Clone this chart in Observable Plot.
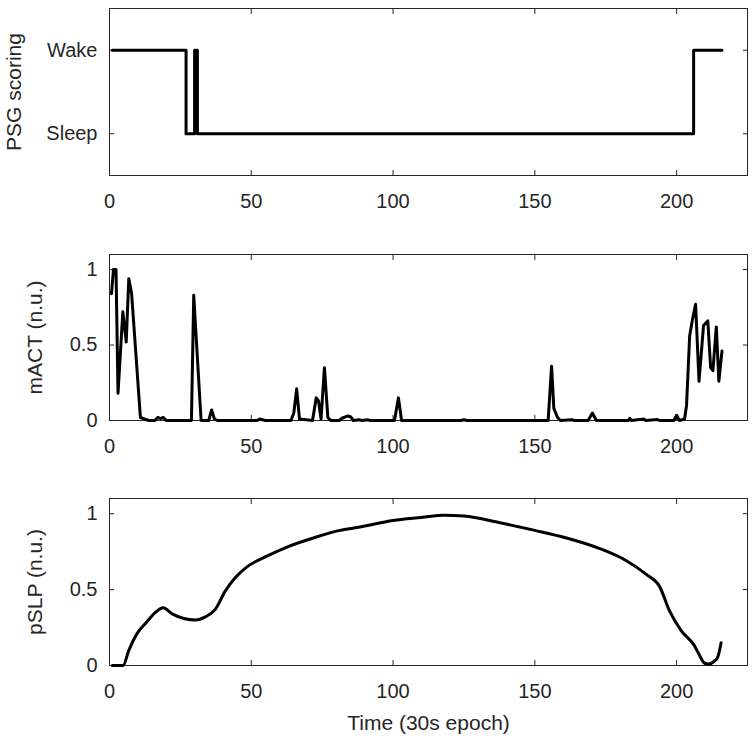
<!DOCTYPE html>
<html>
<head>
<meta charset="utf-8">
<script src="https://cdn.jsdelivr.net/npm/d3@7"></script>
<script src="https://cdn.jsdelivr.net/npm/@observablehq/plot@0.6"></script>
<style>
  body { margin: 0; background: #fff; }
  #chart { width: 756px; height: 748px; }
  #chart svg { display: block; }
  #chart svg g[aria-label="y-axis label"] text, #chart svg g[aria-label="x-axis label"] text { font-size: 21px; }
</style>
</head>
<body>
<div id="chart"></div>
<script>
// ---------- data ----------
const xTicks = [0, 50, 100, 150, 200];
const xLabel = "Time (30s epoch)";

// Panel 1: PSG scoring (change points, step-after)
const psgEpoch = [1, 27, 30, 31, 206, 216];
const psgState = [1, 0, 1, 0, 1, 1];
const psgTicks = [0, 1];
const psgTickLabels = ["Sleep", "Wake"];

// Panel 2: mACT (n.u.)
const actEpoch = [0.7, 1.4, 2.3, 3.0, 4.7, 5.9, 6.8, 7.8, 10.9, 12, 13, 14, 16, 17, 18, 19, 20,
  28.9, 29.7, 32.3, 35, 36, 37, 38, 52, 53, 54, 55, 64, 65, 66, 67,
  71.6, 72.9, 73.7, 74.6, 75.8, 77, 78, 81, 82, 84, 85, 86, 88, 89, 91, 92,
  100.5, 101.9, 103, 124, 125, 126, 154.7, 155.9, 156.7, 158, 159, 163, 164,
  168.8, 170.3, 171.7, 183, 183.5, 184, 188.5, 189, 193.3, 194, 199, 200, 201,
  202.8, 203.5, 204.6, 205.5, 206.7, 207.9, 209.5, 211, 212, 212.8, 214, 214.9, 216];
const actValue = [0.84, 1.0, 1.0, 0.18, 0.72, 0.52, 0.94, 0.84, 0.02, 0.012, 0.005, 0, 0, 0.02, 0.012, 0.02, 0,
  0, 0.83, 0, 0, 0.07, 0.01, 0, 0, 0.01, 0.005, 0, 0, 0.05, 0.21, 0.01,
  0, 0.15, 0.13, 0.01, 0.35, 0.02, 0, 0, 0.015, 0.03, 0.025, 0, 0.005, 0, 0.005, 0,
  0, 0.15, 0, 0, 0.005, 0, 0, 0.36, 0.08, 0.02, 0, 0.005, 0,
  0, 0.05, 0, 0, 0.015, 0, 0.01, 0, 0.006, 0, 0, 0.035, 0,
  0.01, 0.1, 0.56, 0.66, 0.77, 0.26, 0.63, 0.66, 0.35, 0.33, 0.62, 0.26, 0.46];
const actTicks = [0, 0.5, 1];

// Panel 3: pSLP (n.u.)
const slpEpoch = [1, 4.8, 6.8, 9.7, 13.3, 16.2, 18.9, 22.1, 26.2, 30.3, 33.8, 37.3, 40.8, 44.4, 48.5,
  55.5, 62.6, 71.9, 81.3, 87.8, 100, 110, 118, 125, 137.7, 150, 161.2, 172.9, 182.3, 189.3,
  194, 197.5, 201.6, 206.3, 208.1, 209.9, 211.4, 213.4, 214.5, 215.7];
const slpValue = [0, 0, 0.10, 0.21, 0.29, 0.35, 0.38, 0.34, 0.31, 0.30, 0.32, 0.37, 0.49, 0.58, 0.65,
  0.72, 0.78, 0.84, 0.89, 0.91, 0.955, 0.975, 0.99, 0.985, 0.94, 0.89, 0.84, 0.77, 0.69, 0.60,
  0.52, 0.36, 0.23, 0.13, 0.066, 0.015, 0.01, 0.03, 0.055, 0.15];
const slpTicks = [0, 0.5, 1];

// ---------- drawing ----------
const ink = "#262626";
const font = "'Liberation Sans', Arial, Helvetica, sans-serif";
const tickFont = 20;

function panel({xs, ys, yDomain, yTicks, yFormat, yLabel, yLabelOffset, height, mt, mb, curve, showXLabel}) {
  const data = xs.map((x, i) => ({x, y: ys[i]}));
  return Plot.plot({
    width: 756, height,
    marginLeft: 109, marginRight: 9, marginTop: mt, marginBottom: mb,
    style: {fontFamily: font, fontSize: "20px", color: ink, background: "#fff"},
    x: {domain: [0, 225]},
    y: {domain: yDomain},
    marks: [
      Plot.frame({stroke: ink, strokeWidth: 1}),
      Plot.axisX({anchor: "bottom", ticks: xTicks, tickSize: -5, tickPadding: 23, fontSize: tickFont,
        label: showXLabel ? xLabel : null, labelAnchor: "center", labelOffset: 64, labelArrow: "none"}),
      Plot.axisX({anchor: "top", ticks: xTicks, tickSize: -5, tickFormat: () => "", label: null}),
      Plot.axisY({anchor: "left", ticks: yTicks, tickFormat: yFormat, tickSize: -5, tickPadding: 17, fontSize: tickFont,
        label: yLabel, labelAnchor: "center", labelOffset: yLabelOffset, labelArrow: "none"}),
      Plot.axisY({anchor: "right", ticks: yTicks, tickSize: -5, tickFormat: () => "", label: null}),
      Plot.line(data, {x: "x", y: "y", stroke: "#000", strokeWidth: 3, curve})
    ]
  });
}

const root = document.getElementById("chart");
root.append(panel({
  xs: psgEpoch, ys: psgState, yDomain: [-0.5, 1.5], yTicks: psgTicks,
  yFormat: d => psgTickLabels[psgTicks.indexOf(d)], yLabel: "PSG scoring", yLabelOffset: 103,
  height: 240, mt: 8, mb: 65, curve: "step-after", showXLabel: false
}));
root.append(panel({
  xs: actEpoch, ys: actValue, yDomain: [0, 1.1], yTicks: actTicks,
  yFormat: d => String(d), yLabel: "mACT (n.u.)", yLabelOffset: 82,
  height: 240, mt: 14, mb: 60, curve: "linear", showXLabel: false
}));
root.append(panel({
  xs: slpEpoch, ys: slpValue, yDomain: [0, 1.1], yTicks: slpTicks,
  yFormat: d => String(d), yLabel: "pSLP (n.u.)", yLabelOffset: 82,
  height: 268, mt: 18, mb: 83, curve: "monotone-x", showXLabel: true
}));
</script>
</body>
</html>
